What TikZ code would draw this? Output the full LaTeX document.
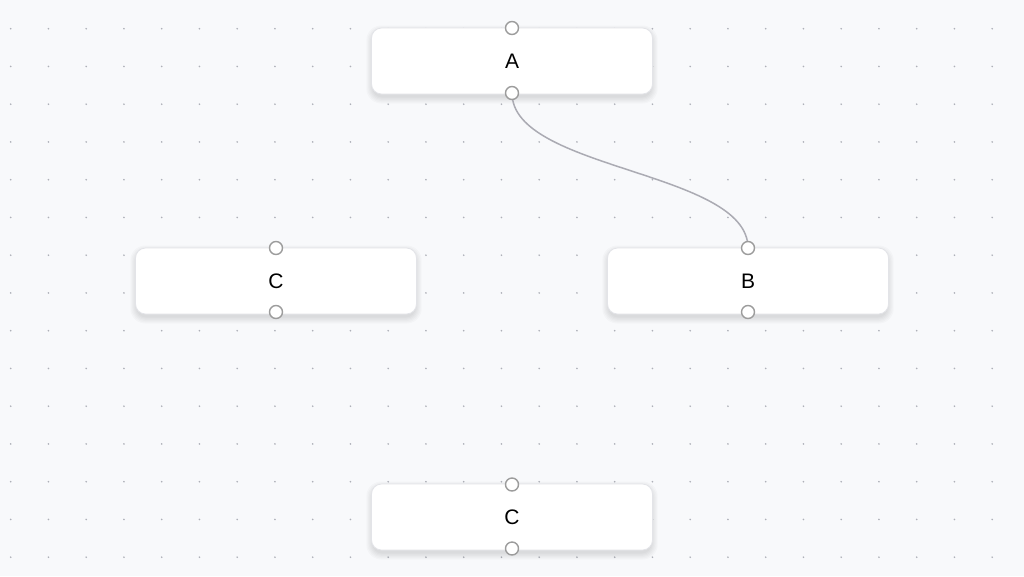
\documentclass[tikz,border=0pt]{standalone}
\usepackage{fontspec}
\setmainfont{Liberation Sans}
\definecolor{bgc}{HTML}{F8F9FB}
\definecolor{dotc}{HTML}{AEB0B8}
\definecolor{edgec}{HTML}{ABABB3}
\definecolor{portc}{HTML}{9C9C9C}
\definecolor{borderc}{HTML}{E3E4E8}
\tikzset{
  nodebox/.style={rectangle, rounded corners=10pt, minimum width=281pt, minimum height=66pt,
    fill=white, draw=borderc, line width=0.8pt, font=\fontsize{21}{24}\selectfont},
  port/.style={circle, draw=portc, fill=white, line width=1.4pt, minimum size=13pt, inner sep=0pt},
  edge/.style={draw=edgec, line width=1.5pt}
}
\begin{document}
\begin{tikzpicture}[x=1pt,y=-1pt]
\fill[bgc] (0,0) rectangle (1024,576);
\useasboundingbox (0,0) rectangle (1024,576);
\foreach \i in {0,...,26}{
  \foreach \j in {0,...,14}{
    \fill[dotc] ({10.7+37.75*\i},{28.7+37.75*\j}) circle (0.95pt);
  }
}
% soft shadows
\foreach \cx/\cy in {512/61, 276/281, 748/281, 512/517}{
  \foreach \k in {0,...,5}{
    \fill[black, opacity=0.018, rounded corners={10pt+\k*1pt}]
      ({\cx-140.5-\k*1.2+0.8},{\cy-33-\k*1.2+3.5}) rectangle ({\cx+140.5+\k*1.2-0.8},{\cy+33+\k*1.2+3.5});
  }
}
\node[nodebox] (A) at (512,61) {A};
\node[nodebox] (C1) at (276,281) {C};
\node[nodebox] (B) at (748,281) {B};
\node[nodebox] (C2) at (512,517) {C};
\coordinate (At) at (512,28);
\coordinate (Ab) at (512,93);
\coordinate (C1t) at (276,248);
\coordinate (C1b) at (276,312);
\coordinate (Bt) at (748,248);
\coordinate (Bb) at (748,312);
\coordinate (C2t) at (512,484.5);
\coordinate (C2b) at (512,548.5);
\draw[edge] (Ab) .. controls +(0,77.5) and +(0,-77.5) .. (Bt);
\foreach \p in {At,Ab,C1t,C1b,Bt,Bb,C2t,C2b}{
  \node[port] (p\p) at (\p) {};
}
\end{tikzpicture}
\end{document}
